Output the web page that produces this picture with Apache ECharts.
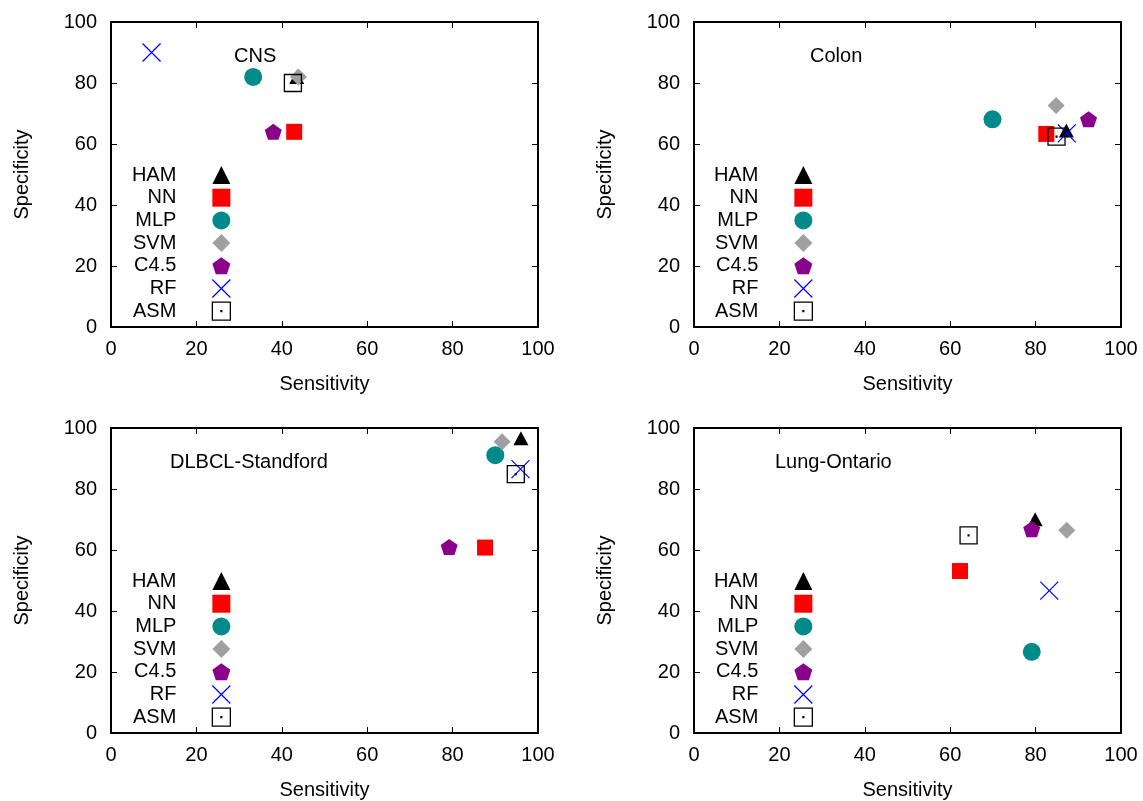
<!DOCTYPE html>
<html><head><meta charset="utf-8">
<script src="https://cdn.jsdelivr.net/npm/echarts@6/dist/echarts.min.js"></script>
<style>html,body{margin:0;padding:0;background:#fff}#c{width:1143px;height:801px}</style>
</head><body><div id="c"></div>
<script>
// ---- data ----
const methods = ['HAM', 'NN', 'MLP', 'SVM', 'C4.5', 'RF', 'ASM'];
const datasets = ['CNS', 'Colon', 'DLBCL-Standford', 'Lung-Ontario'];
const axisTickValues = [0, 20, 40, 60, 80, 100];
const axisXName = 'Sensitivity';
const axisYName = 'Specificity';

const cnsSensitivity   = [43.5, 42.9, 33.3, 43.9, 38.0, 9.5, 42.6];
const cnsSpecificity   = [82.0, 64.0, 82.0, 82.0, 64.0, 90.0, 80.0];
const colonSensitivity = [87.2, 82.5, 69.9, 84.8, 92.4, 87.3, 84.9];
const colonSpecificity = [64.4, 63.3, 68.1, 72.6, 68.1, 63.5, 62.4];
const dlbclSensitivity = [96.0, 87.6, 90.0, 91.6, 79.2, 95.9, 94.8];
const dlbclSpecificity = [96.6, 60.8, 91.1, 95.5, 61.0, 86.5, 84.9];
const lungSensitivity  = [79.9, 62.3, 79.1, 87.3, 79.1, 83.2, 64.3];
const lungSpecificity  = [70.1, 53.1, 26.6, 66.5, 66.8, 46.7, 64.8];

const sensByPanel = [cnsSensitivity, colonSensitivity, dlbclSensitivity, lungSensitivity];
const specByPanel = [cnsSpecificity, colonSpecificity, dlbclSpecificity, lungSpecificity];

// ---- styles ----
const FONT = 'Liberation Sans, Arial, Helvetica, sans-serif';
const pentagon = 'path://M50,0L97.55,34.55L79.39,90.45L20.61,90.45L2.45,34.55Z';
const cross = 'path://M0,0L20,20M20,0L0,20';
const boxDot = 'path://M0,0H20V20H0Z M9.5,9.5H10.5V10.5H9.5Z';
const markStyle = {
  'HAM':  {symbol: 'triangle', size: [15, 14], itemStyle: {color: '#000000', opacity: 1}},
  'NN':   {symbol: 'rect', size: 16, itemStyle: {color: '#ff0000', opacity: 1}},
  'MLP':  {symbol: 'circle', size: 18, itemStyle: {color: '#008b8b', opacity: 1}},
  'SVM':  {symbol: 'diamond', size: 17, itemStyle: {color: '#a0a0a0', opacity: 1}},
  'C4.5': {symbol: pentagon, size: [17, 16], itemStyle: {color: '#8b008b', opacity: 1}},
  'RF':   {symbol: cross, size: 18, itemStyle: {color: 'rgba(0,0,0,0)', borderColor: '#0000ff', borderWidth: 1.2, opacity: 1}},
  'ASM':  {symbol: boxDot, size: 17, itemStyle: {color: 'rgba(0,0,0,0)', borderColor: '#000000', borderWidth: 1.3, opacity: 1}}
};

const grids = [
  {left: 111, top: 22, width: 427, height: 305},
  {left: 694, top: 22, width: 427, height: 305},
  {left: 111, top: 428, width: 427, height: 305},
  {left: 694, top: 428, width: 427, height: 305}
];
const titlePos = [[234, 46], [810, 46], [170, 452], [775, 452]];
const legendPos = [[912, 165], [330, 165], [912, 571], [330, 571]];

const tickMin = axisTickValues[0];
const tickMax = axisTickValues[axisTickValues.length - 1];
const tickStep = axisTickValues[1] - axisTickValues[0];

const lineStyle = {color: '#000', width: 2};
const xAxes = [], yAxes = [], series = [], legends = [], titles = [];
grids.forEach((g, i) => {
  const base = {
    gridIndex: i, type: 'value', min: tickMin, max: tickMax, interval: tickStep,
    splitLine: {show: false},
    axisLine: {show: true, onZero: false, lineStyle: lineStyle},
    axisTick: {show: true, inside: true, length: 6, lineStyle: {color: '#000', width: 1}}
  };
  xAxes.push(Object.assign({}, base, {
    position: 'bottom', name: axisXName, nameLocation: 'middle', nameGap: 47,
    nameTextStyle: {fontSize: 20, color: '#000', fontFamily: FONT},
    axisLabel: {show: true, fontSize: 20, color: '#000', fontFamily: FONT, margin: 12}
  }));
  xAxes.push(Object.assign({}, base, {position: 'top', axisLabel: {show: false}}));
  yAxes.push(Object.assign({}, base, {
    position: 'left', name: axisYName, nameLocation: 'middle', nameGap: 79,
    nameTextStyle: {fontSize: 20, color: '#000', fontFamily: FONT},
    axisLabel: {show: true, fontSize: 20, color: '#000', fontFamily: FONT, margin: 14}
  }));
  yAxes.push(Object.assign({}, base, {position: 'right', axisLabel: {show: false}}));

  methods.forEach((m, k) => {
    const st = markStyle[m];
    series.push({
      type: 'scatter', name: m, xAxisIndex: 2 * i, yAxisIndex: 2 * i,
      data: [[sensByPanel[i][k], specByPanel[i][k]]],
      symbol: st.symbol, symbolSize: st.size, itemStyle: st.itemStyle,
      emphasis: {disabled: true}, silent: true
    });
  });

  legends.push({
    orient: 'vertical', align: 'right', right: legendPos[i][0], top: legendPos[i][1],
    padding: 0, itemGap: 2.7, itemWidth: 18, itemHeight: 18, selectedMode: false,
    data: methods.map(m => {
      const bw = markStyle[m].itemStyle.borderWidth;
      return bw ? {name: m, itemStyle: {borderWidth: bw}} : {name: m};
    }),
    textStyle: {fontSize: 20, color: '#000', fontFamily: FONT, lineHeight: 20, padding: [0, 31, 0, 0]}
  });

  titles.push({
    text: datasets[i], left: titlePos[i][0], top: titlePos[i][1], padding: 0,
    textStyle: {fontSize: 20, fontWeight: 'normal', color: '#000', fontFamily: FONT}
  });
});

const chart = echarts.init(document.getElementById('c'), null, {renderer: 'canvas'});
chart.setOption({
  animation: false,
  backgroundColor: '#ffffff',
  textStyle: {fontFamily: FONT},
  title: titles,
  grid: grids,
  xAxis: xAxes,
  yAxis: yAxes,
  legend: legends,
  series: series
});
</script>
</body></html>
